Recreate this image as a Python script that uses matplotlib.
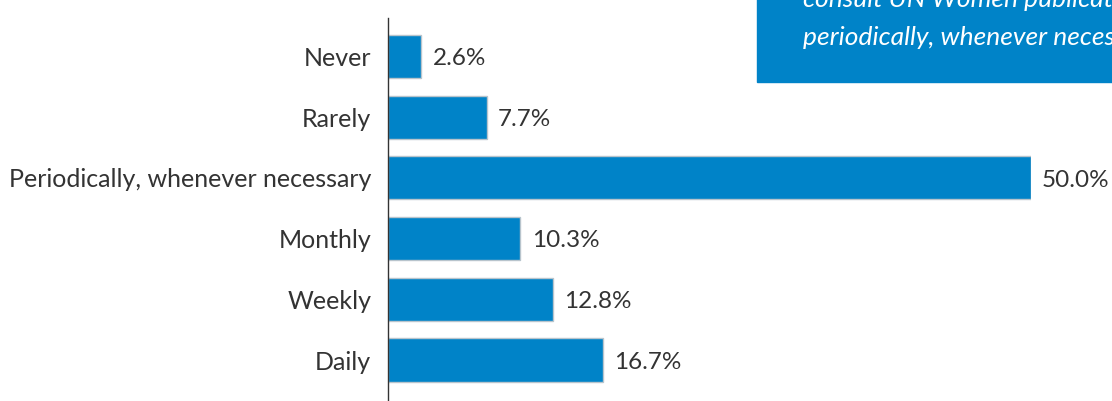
import matplotlib
matplotlib.use("Agg")
import matplotlib.pyplot as plt
from matplotlib.patches import Rectangle

categories = ["Never", "Rarely", "Periodically, whenever necessary", "Monthly", "Weekly", "Daily"]
shares = [2.6, 7.7, 50.0, 10.3, 12.8, 16.7]
value_labels = ["2.6%", "7.7%", "50.0%", "10.3%", "12.8%", "16.7%"]
callout_lines = ["consult UN Women publications", "periodically, whenever necessary"]

bar_color = "#0083C8"
text_color = "#333333"
plt.rcParams['font.family'] = ['Lato', 'DejaVu Sans']

fig = plt.figure(figsize=(11.12, 4.01), dpi=100)
W, H = 1112, 401

# callout box in the top right corner (cut off by the figure edge, as in the source)
fig.patches.append(Rectangle((757 / W, 1 - 82 / H), 400 / W, 90 / H,
                             transform=fig.transFigure, color="#0083C8", zorder=0))
fig.text(803 / W, 1 - 7 / H, callout_lines[0], color="white", fontsize=19,
         style="italic", va="baseline", ha="left")
fig.text(803 / W, 1 - 45 / H, callout_lines[1], color="white", fontsize=19,
         style="italic", va="baseline", ha="left")

ax = fig.add_axes([388 / W, 0, 643 / W, 383 / H])
ax.patch.set_alpha(0)
y = range(len(categories))
ax.barh(y, shares, height=0.71, color=bar_color, edgecolor="#b8c4cc", linewidth=1)
ax.set_xlim(0, 50)
ax.set_ylim(5.675, -0.635)

for i, (v, lab) in enumerate(zip(shares, value_labels)):
    ax.annotate(lab, (v, i), xytext=(8, -1.5), textcoords="offset points",
                va="center", ha="left", fontsize=17.5, color=text_color,
                annotation_clip=False)

ax.set_yticks(list(y))
ax.set_yticklabels(categories, fontsize=18, color=text_color)
ax.tick_params(axis="y", length=0, pad=12)
ax.set_xticks([])
for s in ["top", "right", "bottom"]:
    ax.spines[s].set_visible(False)
ax.spines["left"].set_color("#333333")
ax.spines["left"].set_linewidth(1)

fig.savefig("out.png", dpi=100)
